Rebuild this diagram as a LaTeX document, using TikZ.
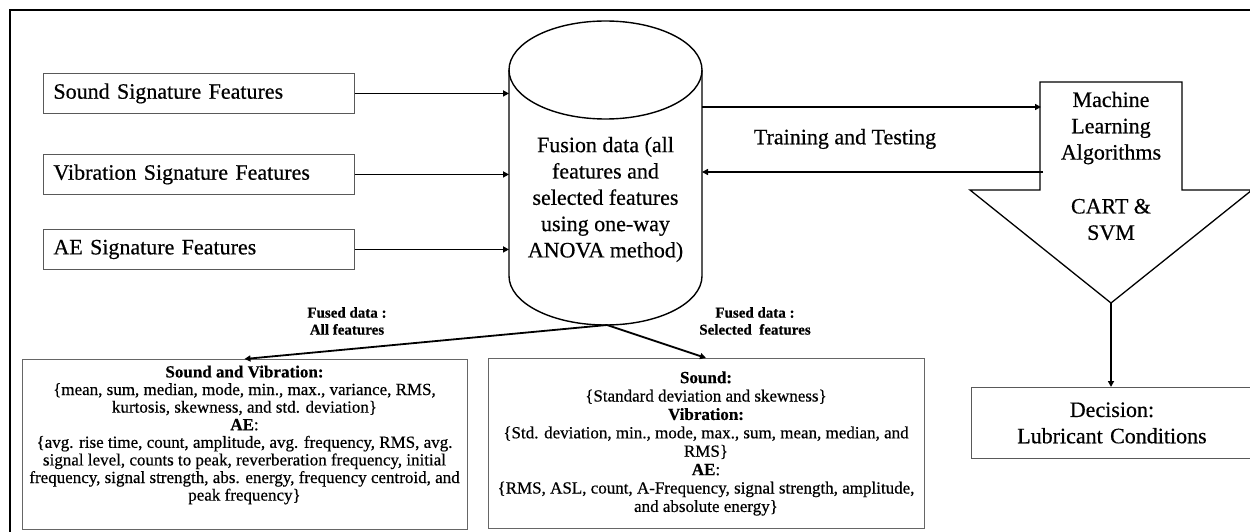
\documentclass[tikz,border=0pt]{standalone}
\usepackage{fontspec}
\setmainfont{Liberation Serif}[FakeBold=0.5]
\usetikzlibrary{arrows.meta,calc}
\begin{document}
\begin{tikzpicture}[x=1pt,y=-1pt,
  big/.style={font=\fontsize{22}{26.3}\selectfont},
  feat/.style={big, draw=black!65, line width=0.9pt, anchor=north west,
    minimum width=311pt, minimum height=40pt, text width=291pt,
    inner xsep=10pt, inner ysep=0pt, align=left},
  listbox/.style={draw=black!60, line width=0.9pt, anchor=north,
    inner xsep=2pt, inner ysep=0pt, align=center},
  tag/.style={font=\fontsize{15}{17}\selectfont\bfseries, align=center},
  arr/.style={line width=1.8pt, -{Triangle[length=6pt,width=6pt]}},
  shell/.style={line width=1.4pt, draw=black}]

\useasboundingbox (0,0) rectangle (1250,532);
\clip (0,0) rectangle (1250,532);

% frame
\draw[line width=2.6pt] (10,545) -- (10,10) -- (1260,10);

% source feature boxes
\node[feat] (snd) at (43,73)  {Sound Signature Features};
\node[feat] (vib) at (43,154) {Vibration Signature Features};
\node[feat] (aeb) at (43,229) {AE Signature Features};

% fusion database (cylinder)
\draw[shell] (509,70) -- (509,276)
  arc[start angle=180, end angle=0, x radius=96.5, y radius=49] -- (702,70);
\draw[shell] (605.5,70) ellipse[x radius=96.5, y radius=49];
\node[big, align=center] (fus) at (605.5,199.5)
  {Fusion data (all\\features and\\selected features\\using one-way\\ANOVA method)};
\coordinate (cylL) at (509,0);
\coordinate (cylR) at (702,0);
\coordinate (cylB) at (607,325);

% machine learning block arrow
\draw[shell, line width=1.3pt] (1040,82) -- (1182,82) -- (1182,190) -- (1252,190)
  -- (1111,303) -- (970,190) -- (1040,190) -- cycle;
\node[big, align=center] (mla) at (1111,128) {Machine\\Learning\\Algorithms};
\node[big, align=center] (alg) at (1111,219.5) {CART \&\\SVM};
\coordinate (mlaL) at (1041,0);
\coordinate (mlaTip) at (1111,303);

% decision
\node[big, draw=black!65, line width=0.9pt, anchor=north west,
  minimum width=281pt, minimum height=71pt, inner sep=0pt, align=center,
  text width=281pt] (dec) at (971,387) {Decision:\\Lubricant Conditions};

% training / testing link
\node[big] (tt) at (845,139) {Training and Testing};
\coordinate (up) at (0,107);
\coordinate (dn) at (0,172);

% feature lists
\node[listbox, minimum width=445pt, minimum height=170pt,
  font=\fontsize{17}{17.6}\selectfont] (allbox) at (244.5,359)
  {\textbf{Sound and Vibration:}\\
   \{mean, sum, median, mode, min., max., variance, RMS,\\
   kurtosis, skewness, and std. deviation\}\\
   \textbf{AE}:\\
   \{avg. rise time, count, amplitude, avg. frequency, RMS, avg.\\
   signal level, counts to peak, reverberation frequency, initial\\
   frequency, signal strength, abs. energy, frequency centroid, and\\
   peak frequency\}\\[-2pt]\rule{0pt}{20pt}};
\node[listbox, minimum width=436pt, minimum height=170pt,
  font=\fontsize{17}{18.4}\selectfont] (selbox) at (706,358)
  {\textbf{Sound:}\\
   \{Standard deviation and skewness\}\\
   \textbf{Vibration:}\\
   \{Std. deviation, min., mode, max., sum, mean, median, and\\
   RMS\}\\
   \textbf{AE}:\\
   \{RMS, ASL, count, A-Frequency, signal strength, amplitude,\\
   and absolute energy\}};

\node[tag] (tagall) at (347,321) {Fused data :\\All features};
\node[tag] (tagsel) at (755,321) {Fused data :\\Selected~~features};

% connectors
\draw[arr] (snd.east) -- (snd.east -| cylL);
\draw[arr] (vib.east) -- (vib.east -| cylL);
\draw[arr] (aeb.east) -- (aeb.east -| cylL);
\draw[arr] (cylR |- up) -- (mlaL |- up);
\draw[arr] ($(mlaL |- dn)+(2,0)$) -- (cylR |- dn);
\draw[arr] (mlaTip) -- (mlaTip |- dec.north);
\draw[arr] (cylB) -- (allbox.north);
\draw[arr] (cylB) -- (selbox.north);
\end{tikzpicture}
\end{document}
